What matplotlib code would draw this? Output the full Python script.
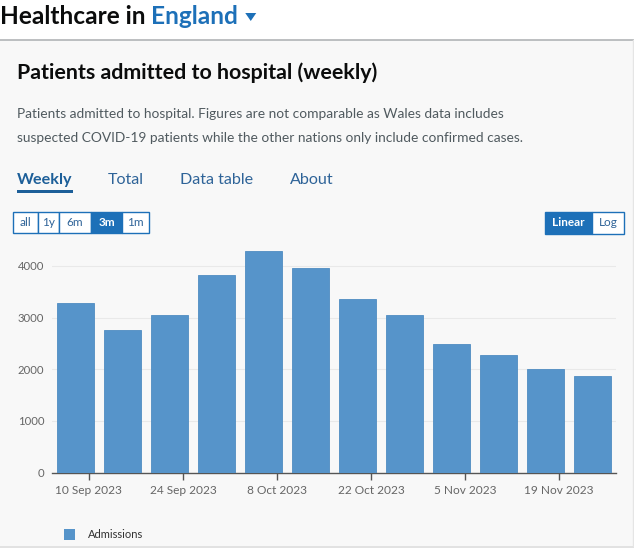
import matplotlib
matplotlib.use("Agg")
import matplotlib.pyplot as plt
import matplotlib.dates as mdates
from matplotlib.patches import Rectangle, Polygon
import numpy as np
import datetime as dt

# ---- data ----
week_dates = ["2023-09-08", "2023-09-15", "2023-09-22", "2023-09-29", "2023-10-06", "2023-10-13",
              "2023-10-20", "2023-10-27", "2023-11-03", "2023-11-10", "2023-11-17", "2023-11-24"]
admissions = [3277, 2754, 3044, 3824, 4294, 3954, 3366, 3050, 2489, 2282, 2000, 1865]
tick_dates = ["2023-09-10", "2023-09-24", "2023-10-08", "2023-10-22", "2023-11-05", "2023-11-19"]
tick_labels = ["10 Sep 2023", "24 Sep 2023", "8 Oct 2023", "22 Oct 2023", "5 Nov 2023", "19 Nov 2023"]
y_ticks = [0, 1000, 2000, 3000, 4000]
range_buttons = ["all", "1y", "6m", "3m", "1m"]
scale_buttons = ["Linear", "Log"]
tabs = ["Weekly", "Total", "Data table", "About"]

W, H = 634, 548
fig = plt.figure(figsize=(W / 100, H / 100), dpi=100)
fig.patch.set_facecolor("white")

FONT = ["Lato", "DejaVu Sans"]
BLUE = "#1d70b8"
BAR = "#5694ca"

# ---- page overlay in pixel coordinates ----
bg = fig.add_axes([0, 0, 1, 1], zorder=0)
bg.set_xlim(0, W)
bg.set_ylim(H, 0)
bg.axis("off")

bg.add_patch(Rectangle((0, 40), W, 506, facecolor="#f8f8f8", edgecolor="none"))
bg.plot([0, W], [39.5, 39.5], color="#b1b4b6", lw=1.2)
bg.plot([0, W], [546.5, 546.5], color="#dddddd", lw=1.2)
bg.plot([632.5, 632.5], [40, 546], color="#e5e5e5", lw=1)

inv = bg.transData.inverted()

# header
t1 = bg.text(0, 16, "Healthcare in ", fontsize=17.6, fontweight="bold", family=FONT,
             color="#0b0c0c", va="center", ha="left")
fig.canvas.draw()
bb = t1.get_window_extent()
x_end = inv.transform((bb.x1, bb.y0))[0]
t2 = bg.text(x_end, 16, "England", fontsize=17.6, fontweight="bold", family=FONT,
             color=BLUE, va="center", ha="left")
fig.canvas.draw()
bb2 = t2.get_window_extent()
x_end2 = inv.transform((bb2.x1, bb2.y0))[0]
tx = x_end2 + 7
bg.add_patch(Polygon([[tx, 13], [tx + 11, 13], [tx + 5.5, 21]], closed=True,
                     facecolor=BLUE, edgecolor="none"))

# title & description
bg.text(17, 73, "Patients admitted to hospital (weekly)", fontsize=15.4, fontweight="bold",
        family=FONT, color="#0b0c0c", va="center", ha="left")
bg.text(17, 114, "Patients admitted to hospital. Figures are not comparable as Wales data includes",
        fontsize=9.95, family=FONT, color="#505a5f", va="center", ha="left")
bg.text(17, 138, "suspected COVID-19 patients while the other nations only include confirmed cases.",
        fontsize=9.95, family=FONT, color="#505a5f", va="center", ha="left")

# tabs
tab_x = [17, 108, 180, 290]
for i, (name, x) in enumerate(zip(tabs, tab_x)):
    if i == 0:
        t = bg.text(x, 180, name, fontsize=11.6, fontweight="bold", family=FONT,
                    color="#1d5f99", va="center", ha="left")
        fig.canvas.draw()
        b = t.get_window_extent()
        xr = inv.transform((b.x1, b.y0))[0]
        bg.add_patch(Rectangle((x, 189.5), xr - x, 3, facecolor="#1d5f99", edgecolor="none"))
    else:
        bg.text(x, 180, name, fontsize=11.6, family=FONT, color="#2e6398",
                va="center", ha="left")

# range buttons
rb_edges = [12.5, 38, 59, 91, 122, 148.5]
for i, name in enumerate(range_buttons):
    x0, x1 = rb_edges[i], rb_edges[i + 1]
    sel = (name == "3m")
    bg.add_patch(Rectangle((x0, 211.5), x1 - x0, 21.5,
                           facecolor=BLUE if sel else "white", edgecolor=BLUE, lw=1))
    bg.text((x0 + x1) / 2, 222.5, name, fontsize=8.5, family=FONT,
            fontweight="bold" if sel else "normal",
            color="white" if sel else "#2e6398", va="center", ha="center")

sb_edges = [545, 592, 624]
for i, name in enumerate(scale_buttons):
    x0, x1 = sb_edges[i], sb_edges[i + 1]
    sel = (name == "Linear")
    bg.add_patch(Rectangle((x0, 212), x1 - x0, 21.5,
                           facecolor=BLUE if sel else "white", edgecolor=BLUE, lw=1))
    bg.text((x0 + x1) / 2, 223, name, fontsize=8.5, family=FONT,
            fontweight="bold" if sel else "normal",
            color="white" if sel else "#2e6398", va="center", ha="center")

# legend
bg.add_patch(Rectangle((64, 529), 11, 11, facecolor=BAR, edgecolor="none"))
bg.text(88, 535, "Admissions", fontsize=8, family=FONT, color="#333333",
        va="center", ha="left")

# ---- chart axes ----
left, right, bottom, top = 52, 616, 472.7, 245.2
ax = fig.add_axes([left / W, (H - bottom) / H, (right - left) / W, (bottom - top) / H], zorder=2)
ax.patch.set_alpha(0)

xd = [dt.datetime.strptime(d, "%Y-%m-%d") for d in week_dates]
ax.bar(xd, admissions, width=5.5, color=BAR, edgecolor="#4f8cc2", linewidth=0.6, zorder=3)

ax.set_xlim(dt.datetime(2023, 9, 4, 12), dt.datetime(2023, 11, 27, 12))
ax.set_ylim(0, 4400)
ax.set_yticks(y_ticks)
ax.set_yticklabels([str(v) for v in y_ticks])
ax.set_xticks([dt.datetime.strptime(d, "%Y-%m-%d") for d in tick_dates])
ax.set_xticklabels(tick_labels)

for v in y_ticks[1:]:
    ax.axhline(v, color="#e9e9e9", lw=0.8, zorder=1)

for s in ["top", "right", "left"]:
    ax.spines[s].set_visible(False)
ax.spines["bottom"].set_color("#555555")
ax.spines["bottom"].set_linewidth(1)

ax.tick_params(axis="y", length=0, pad=5.5, labelsize=8.2, labelcolor="#666666")
ax.tick_params(axis="x", length=5, width=1, color="#555555", pad=4,
               labelsize=8.6, labelcolor="#666666")
for lab in ax.get_xticklabels() + ax.get_yticklabels():
    lab.set_family(FONT)

fig.savefig("out.png", dpi=100, facecolor=fig.get_facecolor())
